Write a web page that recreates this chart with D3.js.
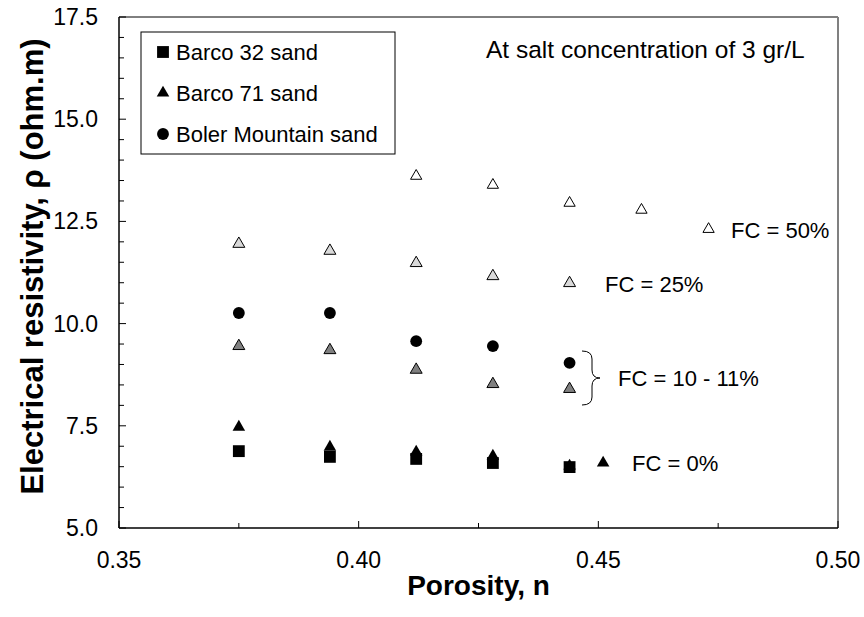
<!DOCTYPE html>
<html>
<head>
<meta charset="utf-8">
<script src="https://cdn.jsdelivr.net/npm/d3@7"></script>
<style>
    body { margin: 0; background: #fff; }
    svg text { font-family: "Liberation Sans", Arial, sans-serif; }
</style>
</head>
<body>
<div id="chart"></div>
<script>
// porosity values (x) for each group
let porosity = [0.375, 0.394, 0.412, 0.428, 0.444];
let porosity50 = [0.412, 0.428, 0.444, 0.459, 0.473];
let porosityB71 = [0.375, 0.394, 0.412, 0.428, 0.444, 0.451];

// resistivity (ohm.m)
let barco32 = [6.88, 6.74, 6.69, 6.59, 6.49];
let barco71fc0 = [7.47, 6.98, 6.86, 6.76, 6.52, 6.59];
let bolerFc10 = [10.26, 10.26, 9.57, 9.45, 9.04];
let barco71fc10 = [9.45, 9.35, 8.87, 8.52, 8.40];
let barco71fc25 = [11.95, 11.78, 11.48, 11.16, 10.99];
let barco71fc50 = [13.61, 13.39, 12.95, 12.78, 12.31];

let xTicks = [0.35, 0.40, 0.45, 0.50];
let yTicks = [5.0, 7.5, 10.0, 12.5, 15.0, 17.5];
let legendLabels = ["Barco 32 sand", "Barco 71 sand", "Boler Mountain sand"];

let margin = {top: 17, right: 26, bottom: 89, left: 119};
let width = 864 - margin.left - margin.right;
let height = 617 - margin.top - margin.bottom;

let svg = d3.select("#chart").append("svg")
    .attr("width", 864)
    .attr("height", 617);

let g = svg.append("g")
    .attr("transform", `translate(${margin.left},${margin.top})`);

let x = d3.scaleLinear().domain([0.35, 0.50]).range([0, width]);
let y = d3.scaleLinear().domain([5, 17.5]).range([height, 0]);

// frame: top and right borders
g.append("line").attr("x1", 0).attr("x2", width).attr("y1", 0).attr("y2", 0)
    .attr("stroke", "#000").attr("stroke-width", 1);
g.append("line").attr("x1", width).attr("x2", width).attr("y1", 0).attr("y2", height)
    .attr("stroke", "#808080").attr("stroke-width", 2);

// x axis, ticks pointing inside
let xMinor = d3.range(0.35, 0.5001, 0.025);
g.append("g").attr("transform", `translate(0,${height})`)
    .selectAll("line").data(xMinor).enter().append("line")
    .attr("x1", d => x(d)).attr("x2", d => x(d))
    .attr("y1", 0).attr("y2", (d, i) => i % 2 === 0 ? -7 : -5)
    .attr("stroke", "#000");
g.append("line").attr("x1", 0).attr("x2", width).attr("y1", height).attr("y2", height)
    .attr("stroke", "#000").attr("stroke-width", 1.5);
g.selectAll(".xlab").data(xTicks).enter().append("text")
    .attr("class", "xlab")
    .attr("x", d => x(d)).attr("y", height + 40)
    .attr("text-anchor", "middle")
    .style("font-size", "23px")
    .text(d => d3.format(".2f")(d));

// y axis
let yMinor = d3.range(5, 17.501, 0.5);
g.selectAll(".ytick").data(yMinor).enter().append("line")
    .attr("class", "ytick")
    .attr("x1", 0).attr("x2", (d, i) => i % 5 === 0 ? 7 : 5)
    .attr("y1", d => y(d)).attr("y2", d => y(d))
    .attr("stroke", "#000");
g.append("line").attr("x1", 0).attr("x2", 0).attr("y1", 0).attr("y2", height)
    .attr("stroke", "#000").attr("stroke-width", 1.5);
g.selectAll(".ylab").data(yTicks).enter().append("text")
    .attr("class", "ylab")
    .attr("x", -21).attr("y", d => y(d) + 8)
    .attr("text-anchor", "end")
    .style("font-size", "23px")
    .text(d => d3.format(".1f")(d));

// axis titles
svg.append("text")
    .attr("x", margin.left + width / 2).attr("y", 595)
    .attr("text-anchor", "middle")
    .style("font-size", "28px").style("font-weight", "bold")
    .text("Porosity, n");
svg.append("text")
    .attr("transform", `translate(43,${margin.top + height / 2 - 6}) rotate(-90)`)
    .attr("text-anchor", "middle")
    .style("font-size", "31px").style("font-weight", "bold")
    .text("Electrical resistivity, ρ (ohm.m)");

// markers
let triSym = s => d3.symbol().type(d3.symbolTriangle).size(s)();
let sq = d3.symbol().type(d3.symbolSquare).size(140)();
let circ = d3.symbol().type(d3.symbolCircle).size(110)();

function drawSeries(xs, ys, sym, fill, stroke) {
    g.append("g").selectAll("path")
        .data(xs.map((d, i) => [d, ys[i]]))
        .enter().append("path")
        .attr("d", sym)
        .attr("transform", d => `translate(${x(d[0])},${y(d[1])})`)
        .attr("fill", fill)
        .attr("stroke", stroke)
        .attr("stroke-width", 1);
}

drawSeries(porosity50, barco71fc50, triSym(55), "#fff", "#000");
drawSeries(porosity, barco71fc25, triSym(62), "#d9d9d9", "#000");
drawSeries(porosity, barco71fc10, triSym(62), "#808080", "#000");
drawSeries(porosity, bolerFc10, circ, "#000", "none");
drawSeries(porosityB71, barco71fc0, triSym(68), "#000", "none");
drawSeries(porosity, barco32, sq, "#000", "none");

// legend
let legend = svg.append("g").attr("transform", "translate(141,32)");
legend.append("rect").attr("width", 254).attr("height", 122)
    .attr("fill", "#fff").attr("stroke", "#000").attr("stroke-width", 1);
let legSyms = [sq, triSym(68), circ];
legendLabels.forEach((lab, i) => {
    legend.append("path").attr("d", legSyms[i])
        .attr("transform", `translate(22,${20 + i * 41})`)
        .attr("fill", "#000");
    legend.append("text").attr("x", 35).attr("y", 28 + i * 41)
        .style("font-size", "22px").text(lab);
});

// annotations
let note = svg.append("g").style("font-size", "22px");
note.append("text").attr("x", 486).attr("y", 58).style("font-size", "24.5px")
    .text("At salt concentration of 3 gr/L");
note.append("text").attr("x", 731).attr("y", 238).text("FC = 50%");
note.append("text").attr("x", 605).attr("y", 292).text("FC = 25%");
note.append("text").attr("x", 618).attr("y", 386).text("FC = 10 - 11%");
note.append("text").attr("x", 632).attr("y", 471).text("FC = 0%");

// curly brace for FC = 10 - 11%
svg.append("path")
    .attr("d", "M582,351 Q592,351 592,359 L592,370 Q592,378 600,378 Q592,378 592,386 L592,397 Q592,405 582,405")
    .attr("fill", "none").attr("stroke", "#000").attr("stroke-width", 1);
</script>
</body>
</html>
